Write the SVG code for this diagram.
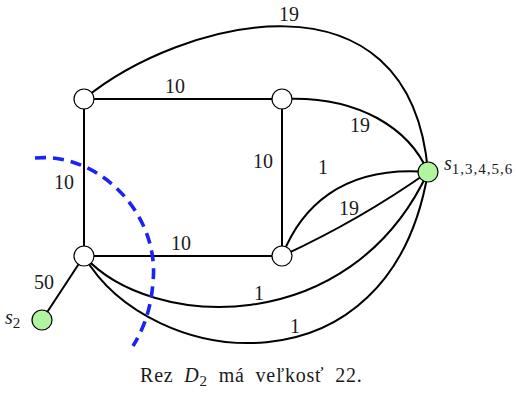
<svg xmlns="http://www.w3.org/2000/svg" width="516" height="399" viewBox="0 0 516 399">
<style>
.e{fill:none;stroke:#000;stroke-width:2}
.n{fill:#fff;stroke:#000;stroke-width:1.2}
.g{fill:#b2f5a0;stroke:#000;stroke-width:1.2}
.cut{fill:none;stroke:#1a22f5;stroke-width:3.6;stroke-dasharray:11 7}
</style>
<rect width="516" height="399" fill="#fff"/>
<g id="connectors">
<path class="e" d="M84,99 L282,99"/>
<path class="e" d="M84,99 L84,256"/>
<path class="e" d="M282,99 L282,256"/>
<path class="e" d="M84,256 L282,256"/>
<path class="e" d="M84,256 L42,320"/>
<path class="e" d="M84,99 C180,20 410,-40 428,172"/>
<path class="e" d="M282,99 C360,95 410,130 428,172"/>
<path class="e" d="M282,256 C300,210 340,165 428,172"/>
<path class="e" d="M282,256 Q360,220 428,172"/>
<path class="e" d="M84,256 C150,330 350,340 428,172"/>
<path class="e" d="M84,256 C150,370 390,400 428,172"/>
</g>
<path id="cut" class="cut" d="M35,158 C100,152 160,215 153,282 C151,310 143,330 133,346"/>
<g id="n1"><circle class="n" cx="84" cy="99" r="10"/></g>
<g id="n3"><circle class="n" cx="282" cy="99" r="10"/></g>
<g id="n4"><circle class="n" cx="84" cy="256" r="10"/></g>
<g id="n5"><circle class="n" cx="282" cy="256" r="10"/></g>
<g font-family="Liberation Serif, DejaVu Serif, serif" font-size="20" fill="#1a1a1a">
<g id="labels" text-anchor="middle">
<text x="289" y="21">19</text>
<text x="175" y="93">10</text>
<text x="360" y="132">19</text>
<text x="263" y="168">10</text>
<text x="323" y="174">1</text>
<text x="64" y="189">10</text>
<text x="349" y="215">19</text>
<text x="181" y="250">10</text>
<text x="44" y="289">50</text>
<text x="259" y="300">1</text>
<text x="295" y="333">1</text>
</g>
<g id="s"><circle class="g" cx="428" cy="172" r="10"/>
<text x="444" y="170"><tspan font-style="italic">s</tspan><tspan font-size="15" dy="4" letter-spacing="1">1,3,4,5,6</tspan></text></g>
<g id="s2"><circle class="g" cx="42" cy="320" r="10"/>
<text x="5" y="324"><tspan font-style="italic">s</tspan><tspan font-size="15" dy="4">2</tspan></text></g>
<text id="caption" x="140" y="382" letter-spacing="0.8" word-spacing="5">Rez <tspan font-style="italic">D</tspan><tspan font-size="15" dy="4">2</tspan><tspan dy="-4"> má veľkosť 22.</tspan></text>
</g>
</svg>
